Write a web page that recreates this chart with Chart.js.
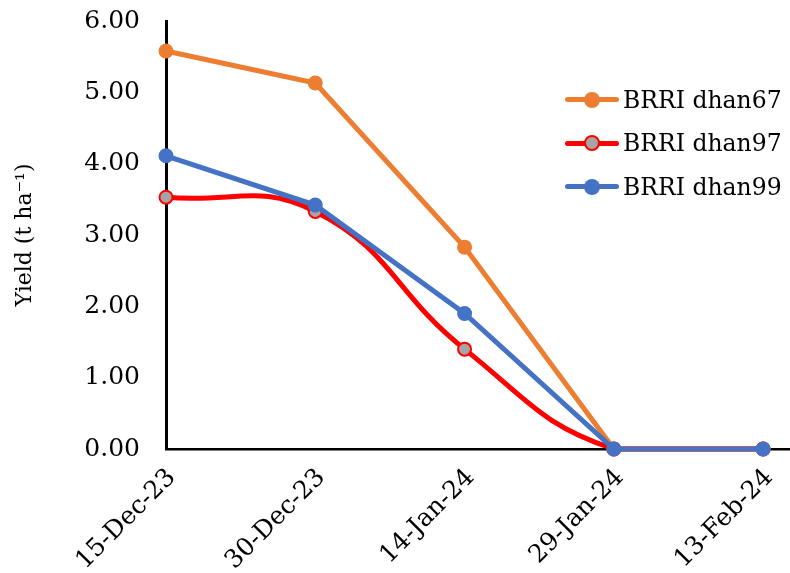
<!DOCTYPE html>
<html>
<head>
<meta charset="utf-8">
<script src="https://cdn.jsdelivr.net/npm/chart.js@4.4.1/dist/chart.umd.min.js"></script>
<style>
  html, body { margin: 0; padding: 0; background: #fff; }
  #wrap { position: relative; width: 790px; height: 573px; }
  #legend { position: absolute; left: 563px; top: 78px; font-family: "DejaVu Serif", serif; font-size: 23.5px; color: #000; }
  .row { display: flex; align-items: center; height: 43.5px; }
  .sw { position: relative; width: 58px; height: 16px; margin-right: 2px; }
  .sw .ln { position: absolute; left: 2px; right: 2px; top: 5.5px; height: 5px; border-radius: 3px; }
  .sw .dot { position: absolute; left: 21px; top: 0px; width: 16px; height: 16px; border-radius: 50%; box-sizing: border-box; }
</style>
</head>
<body>
<div id="wrap">
  <canvas id="yield" width="790" height="573"></canvas>
  <div id="legend"></div>
</div>
<script>
var sowingDates = ['15-Dec-23', '30-Dec-23', '14-Jan-24', '29-Jan-24', '13-Feb-24'];
var dhan67 = [5.58, 5.13, 2.83, 0, 0];
var dhan97 = [3.53, 3.33, 1.40, 0, 0];
var dhan99 = [4.11, 3.42, 1.90, 0, 0];
var yTicks = [0, 1, 2, 3, 4, 5, 6];

var series = [
  { label: 'BRRI dhan67', values: dhan67, line: '#ED7D31', fill: '#ED7D31', border: '#ED7D31', smooth: false, order: 2 },
  { label: 'BRRI dhan97', values: dhan97, line: '#FF0000', fill: '#A5A5A5', border: '#FF0000', smooth: true, order: 1 },
  { label: 'BRRI dhan99', values: dhan99, line: '#4472C4', fill: '#4472C4', border: '#4472C4', smooth: false, order: 0 }
];

function toPoints(values) {
  return values.map(function (v, i) { return { x: i, y: v }; });
}

const ctx = document.getElementById('yield');

const datasets = series.map(s => {
  return {
    label: s.label,
    data: toPoints(s.values),
    borderColor: s.line,
    borderWidth: 5,
    pointBackgroundColor: s.fill,
    pointBorderColor: s.border,
    pointBorderWidth: s.smooth ? 2 : 0,
    pointRadius: s.smooth ? 6.5 : 7.5,
    tension: s.smooth ? 0.45 : 0,
    clip: false,
    order: s.order
  };
});

new Chart(ctx, {
  type: 'line',
  data: { datasets: datasets },
  options: {
    responsive: false,
    animation: false,
    events: [],
    layout: { autoPadding: false, padding: { top: 21, right: 0, left: 0, bottom: 0 } },
    plugins: { legend: { display: false }, tooltip: { enabled: false } },
    scales: {
      x: {
        type: 'linear',
        min: 0,
        max: 4.18,
        afterBuildTicks: function (axis) {
          axis.ticks = sowingDates.map(function (d, i) { return { value: i }; });
        },
        afterFit: function (axis) { axis.height = 124; },
        // invisible tick marks only push the labels away from the axis
        grid: { drawOnChartArea: false, drawTicks: true, tickLength: 14, tickColor: 'rgba(0,0,0,0)' },
        border: { display: true, color: '#000', width: 2.5 },
        ticks: {
          maxRotation: 45,
          minRotation: 45,
          padding: 0,
          labelOffset: 6,
          color: '#000',
          font: { family: 'DejaVu Serif', size: 25 },
          callback: function (v) { return sowingDates[v]; }
        }
      },
      y: {
        min: 0,
        max: 6,
        afterBuildTicks: function (axis) {
          axis.ticks = yTicks.map(function (v) { return { value: v }; });
        },
        afterFit: function (axis) { axis.width = 166; },
        grid: { drawOnChartArea: false, drawTicks: true, tickLength: 26, tickColor: 'rgba(0,0,0,0)' },
        border: { display: true, color: '#000', width: 3 },
        title: {
          display: true,
          text: 'Yield (t ha\u207B\u00B9)',
          color: '#000',
          font: { family: 'DejaVu Serif', size: 22 },
          padding: { top: 12, bottom: 20 }
        },
        ticks: {
          padding: 0,
          color: '#000',
          font: { family: 'DejaVu Serif', size: 25 },
          callback: function (v) { return v.toFixed(2); }
        }
      }
    }
  }
});

var legend = document.getElementById('legend');
series.forEach(function (s) {
  var row = document.createElement('div');
  row.className = 'row';
  var sw = document.createElement('div');
  sw.className = 'sw';
  var ln = document.createElement('div');
  ln.className = 'ln';
  ln.style.background = s.line;
  var dot = document.createElement('div');
  dot.className = 'dot';
  dot.style.background = s.fill;
  if (s.smooth) dot.style.border = '2px solid ' + s.border;
  sw.appendChild(ln);
  sw.appendChild(dot);
  var txt = document.createElement('span');
  txt.textContent = s.label;
  row.appendChild(sw);
  row.appendChild(txt);
  legend.appendChild(row);
});
</script>
</body>
</html>
